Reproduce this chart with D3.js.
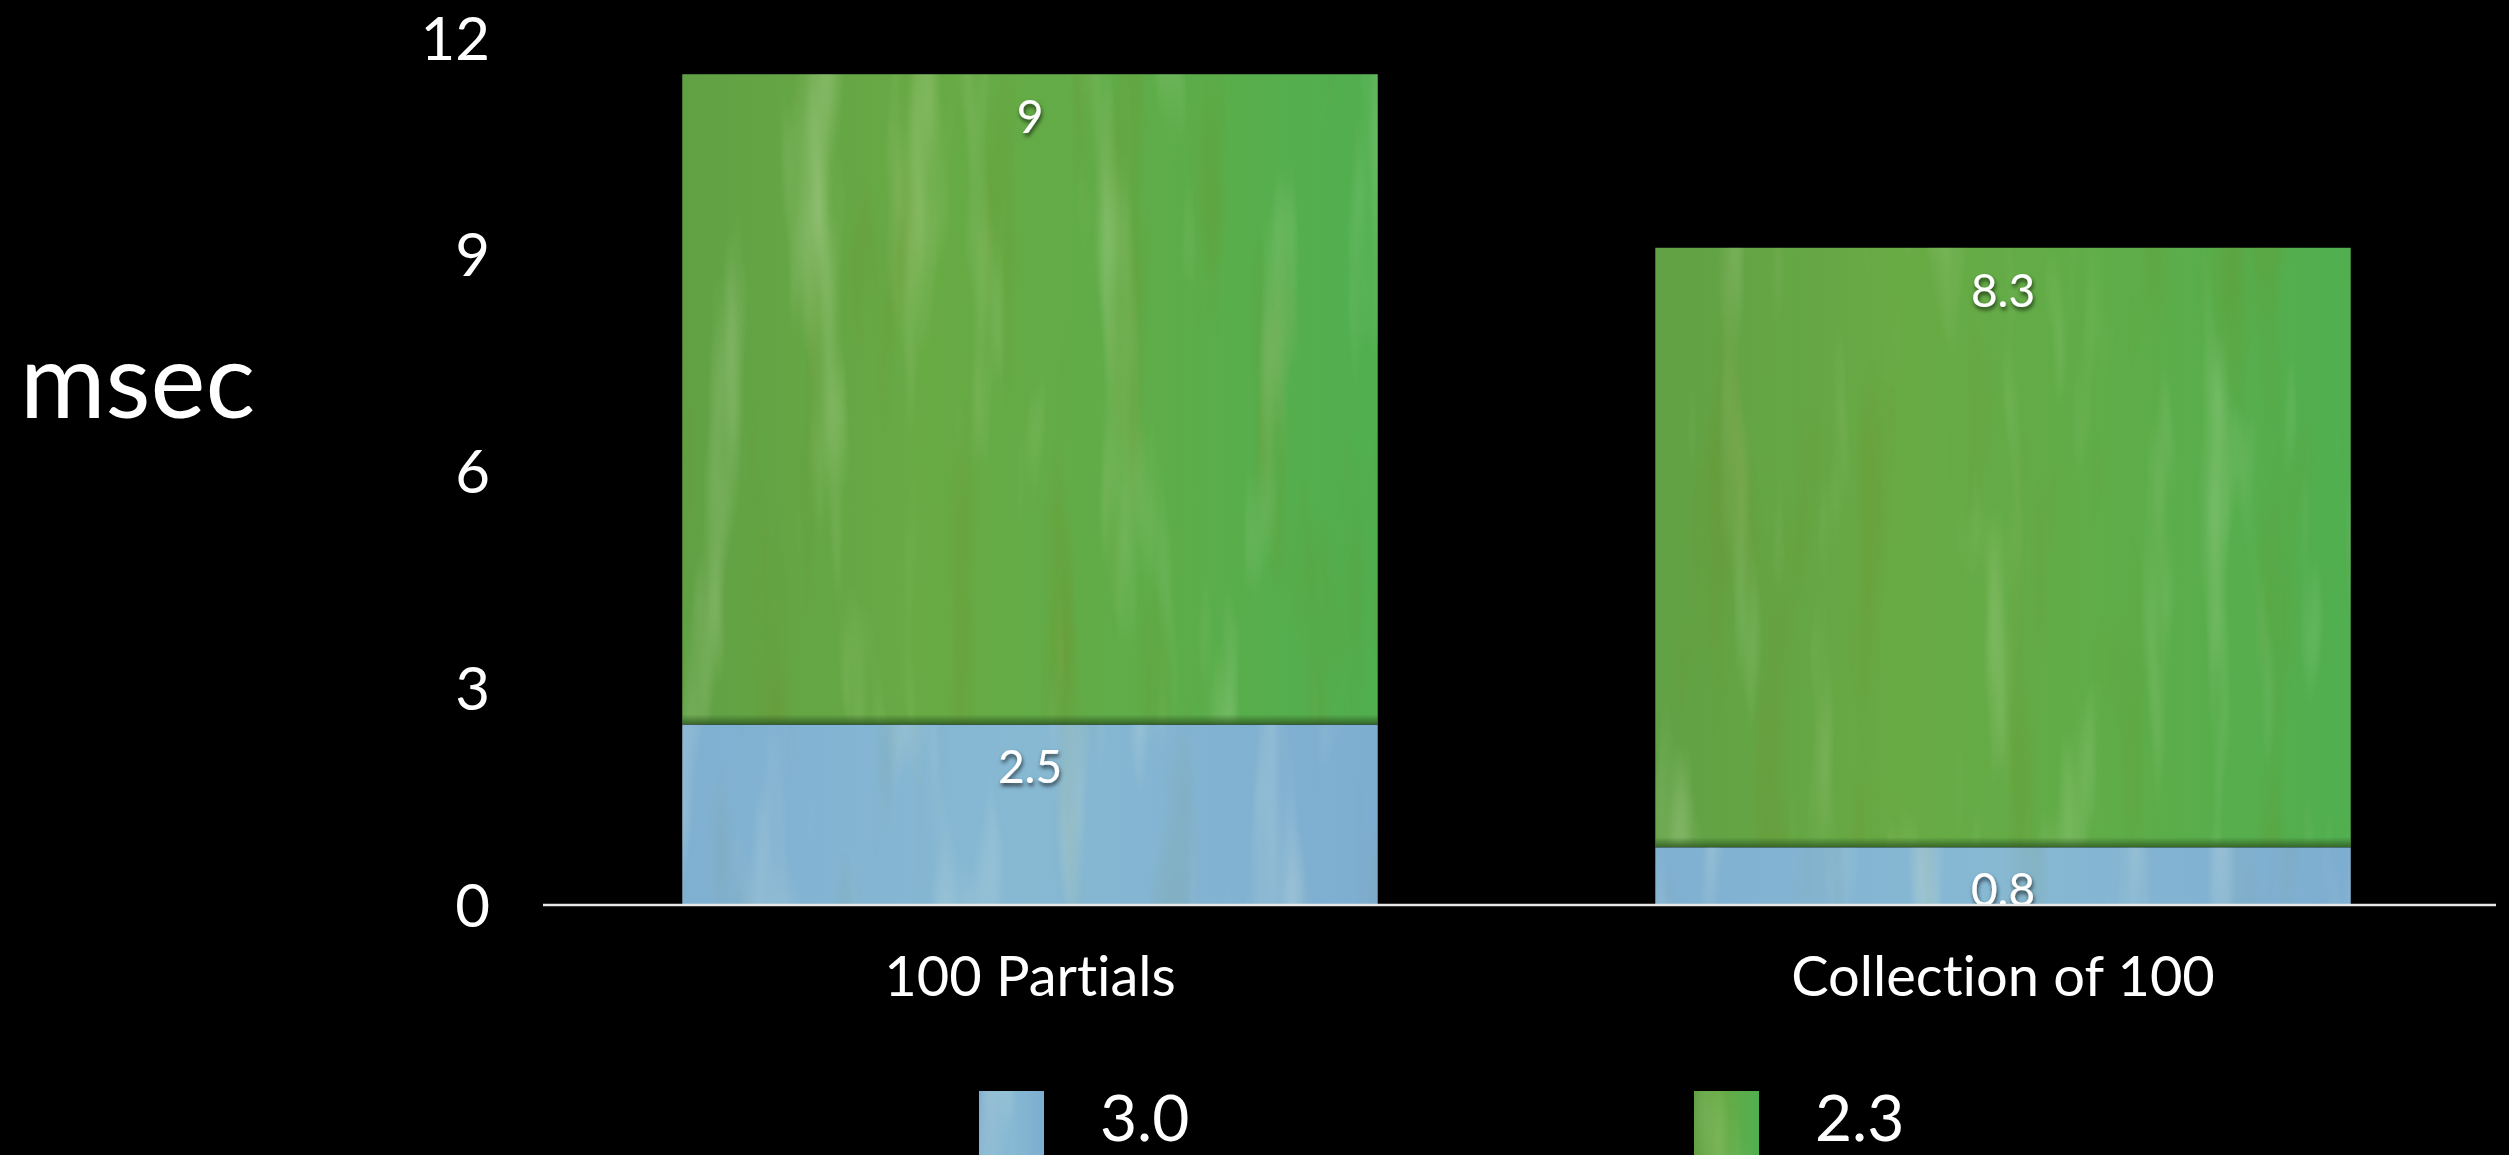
<!DOCTYPE html>
<html>
<head>
<meta charset="utf-8">
<script src="https://cdn.jsdelivr.net/npm/d3@7"></script>
<style>
  html, body { margin: 0; padding: 0; background: #000; }
  svg { display: block; }
  text { font-family: Lato, "Open Sans", sans-serif; fill: #fff; font-variant-ligatures: none; font-feature-settings: "liga" 0, "clig" 0; }
</style>
</head>
<body>
<svg id="chart" width="2509" height="1155"></svg>
<script>
// ---- data ----
const categories = ["100 Partials", "Collection of 100"];
const seriesNames = ["3.0", "2.3"];
const values30 = [2.5, 0.8];
const values23 = [9, 8.3];
const yTicks = [0, 3, 6, 9, 12];
const yAxisTitle = "msec";

// ---- setup ----
const W = 2509, H = 1155;
const svg = d3.select("#chart");
svg.append("rect").attr("width", W).attr("height", H).attr("fill", "#000");

const defs = svg.append("defs");

// gradients for painted look
const gGreen = defs.append("linearGradient").attr("id", "gradGreen").attr("x1", 0).attr("x2", 1).attr("y1", 0).attr("y2", 0);
[["0%", "#61a145"], ["35%", "#68aa44"], ["60%", "#61ac48"], ["100%", "#50af4f"]].forEach(([o, c]) =>
  gGreen.append("stop").attr("offset", o).attr("stop-color", c));
const gBlue = defs.append("linearGradient").attr("id", "gradBlue").attr("x1", 0).attr("x2", 1).attr("y1", 0).attr("y2", 0);
[["0%", "#80b0d1"], ["50%", "#87b9d3"], ["100%", "#7dadd0"]].forEach(([o, c]) =>
  gBlue.append("stop").attr("offset", o).attr("stop-color", c));

// brush-stroke texture filter
function paintFilter(id, seed, lightAlpha, darkAlpha) {
  const f = defs.append("filter").attr("id", id)
    .attr("x", 0).attr("y", 0).attr("width", 1).attr("height", 1)
    .attr("color-interpolation-filters", "sRGB");
  f.append("feTurbulence").attr("type", "fractalNoise")
    .attr("baseFrequency", "0.02 0.0025").attr("numOctaves", 3).attr("seed", seed).attr("result", "noise");
  f.append("feColorMatrix").attr("in", "noise").attr("type", "matrix")
    .attr("values", `0 0 0 0 1  0 0 0 0 1  0 0 0 0 0.9  ${lightAlpha} 0 0 0 ${-lightAlpha * 0.55}`)
    .attr("result", "light");
  f.append("feColorMatrix").attr("in", "noise").attr("type", "matrix")
    .attr("values", `0 0 0 0 0.45  0 0 0 0 0.5  0 0 0 0 0.1  0 ${-darkAlpha} 0 0 ${darkAlpha * 0.45}`)
    .attr("result", "dark");
  const m = f.append("feMerge").attr("result", "merged");
  m.append("feMergeNode").attr("in", "SourceGraphic");
  m.append("feMergeNode").attr("in", "light");
  m.append("feMergeNode").attr("in", "dark");
  f.append("feComposite").attr("in", "merged").attr("in2", "SourceGraphic").attr("operator", "in");
}
paintFilter("paintGreen", 7, 0.7, 0.7);
paintFilter("paintBlue", 11, 0.7, 0.3);

// shadow for value labels
const sh = defs.append("filter").attr("id", "txtShadow").attr("x", "-20%").attr("y", "-20%").attr("width", "140%").attr("height", "160%");
sh.append("feDropShadow").attr("dx", 1).attr("dy", 3).attr("stdDeviation", 2)
  .attr("flood-color", "#000").attr("flood-opacity", 0.65);

// dark seam gradient at bottom of green segment
const seam = defs.append("linearGradient").attr("id", "seam").attr("x1", 0).attr("x2", 0).attr("y1", 0).attr("y2", 1);
seam.append("stop").attr("offset", "0%").attr("stop-color", "#2f5a22").attr("stop-opacity", 0);
seam.append("stop").attr("offset", "100%").attr("stop-color", "#2f5a22").attr("stop-opacity", 0.85);

// ---- scales ----
const x = d3.scaleBand().domain(categories).range([543, 2490]).paddingInner(0.285).paddingOuter(0.143);
const y = d3.scaleLinear().domain([0, 12]).range([905, 38]);

// ---- y axis labels ----
const yAxis = d3.axisLeft(y).tickValues(yTicks).tickSize(0).tickPadding(0).tickFormat(d3.format("d"));
const yg = svg.append("g").attr("transform", "translate(490,0)").call(yAxis);
yg.select(".domain").remove();
yg.selectAll("text").attr("fill", "#fff").attr("font-size", 60).attr("font-family", "Lato, sans-serif").attr("dy", "0.35em");

// axis title
svg.append("text").attr("x", 20).attr("y", 418).attr("font-size", 104).text(yAxisTitle);

// ---- stacked bars ----
const rows = categories.map((c, i) => ({ cat: c, "3.0": values30[i], "2.3": values23[i] }));
const stack = d3.stack().keys(seriesNames)(rows);
const fills = { "3.0": ["url(#gradBlue)", "url(#paintBlue)"], "2.3": ["url(#gradGreen)", "url(#paintGreen)"] };

stack.forEach(layer => {
  const key = layer.key;
  const g = svg.append("g");
  g.selectAll("rect").data(layer).join("rect")
    .attr("x", d => x(d.data.cat))
    .attr("width", x.bandwidth())
    .attr("y", d => y(d[1]))
    .attr("height", d => y(d[0]) - y(d[1]))
    .attr("fill", fills[key][0])
    .attr("filter", fills[key][1]);
  if (key === "2.3") {
    g.selectAll("rect.seam").data(layer).join("rect").attr("class", "seam")
      .attr("x", d => x(d.data.cat))
      .attr("width", x.bandwidth())
      .attr("y", d => y(d[0]) - 10)
      .attr("height", 10)
      .attr("fill", "url(#seam)");
  }
});

// value labels
stack.forEach(layer => {
  svg.append("g").selectAll("text").data(layer).join("text")
    .attr("x", d => x(d.data.cat) + x.bandwidth() / 2)
    .attr("y", d => y(d[1]) + 43)
    .attr("dy", "0.35em")
    .attr("text-anchor", "middle")
    .attr("font-size", 46)
    .attr("filter", "url(#txtShadow)")
    .text(d => +(d[1] - d[0]).toFixed(1));
});

// baseline
svg.append("line").attr("x1", 543).attr("x2", 2496).attr("y1", y(0)).attr("y2", y(0))
  .attr("stroke", "#e8e8e8").attr("stroke-width", 2.5);

// category labels
svg.append("g").selectAll("text").data(categories).join("text")
  .attr("x", d => x(d) + x.bandwidth() / 2)
  .attr("y", 976)
  .attr("dy", "0.35em")
  .attr("text-anchor", "middle")
  .attr("font-size", 56)
  .text(d => d);

// ---- legend ----
const legendX = [979, 1694];
const lg = svg.append("g").selectAll("g").data(seriesNames).join("g")
  .attr("transform", (d, i) => `translate(${legendX[i]},1091)`);
lg.append("rect").attr("width", 65).attr("height", 70)
  .attr("fill", d => fills[d][0]).attr("filter", d => fills[d][1]);
lg.append("text").attr("x", 121).attr("y", 50).attr("font-size", 64).text(d => d);
</script>
</body>
</html>
